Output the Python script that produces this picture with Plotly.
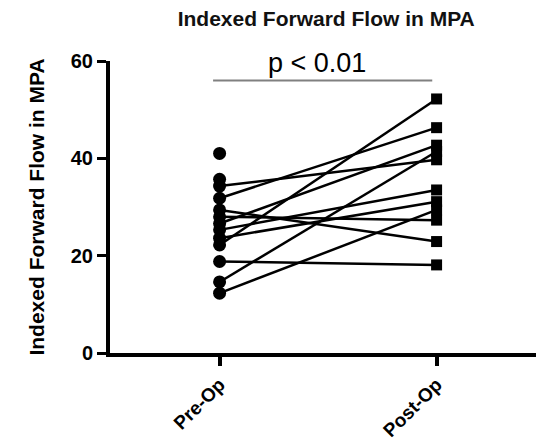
import plotly.graph_objects as go

categories = ["Pre-Op", "Post-Op"]
pre_values = [41.0, 35.7, 34.3, 31.8, 29.4, 28.0, 26.6, 25.3, 23.6, 22.2, 18.8, 14.6, 12.3]
post_values = [None, None, 39.7, 46.3, 22.9, 27.3, 42.7, 33.5, 31.1, 52.2, 18.1, 41.4, 29.4]
y_ticks = [0, 20, 40, 60]
title_text = "Indexed Forward Flow in MPA"
y_title = "Indexed Forward Flow in MPA"
p_text = "p < 0.01"
bracket_y = 56
bracket_x = [-0.03, 0.98]

FONT = "Liberation Sans, Arial, sans-serif"

fig = go.Figure()

lx, ly = [], []
for a, b in zip(pre_values, post_values):
    if a is None or b is None:
        continue
    lx += [0, 1, None]
    ly += [a, b, None]
fig.add_trace(go.Scatter(x=lx, y=ly, mode="lines", line=dict(color="black", width=2.5),
                         hoverinfo="skip", showlegend=False, cliponaxis=False))
fig.add_trace(go.Scatter(x=[0] * len(pre_values), y=pre_values, mode="markers",
                         marker=dict(symbol="circle", size=13, color="black"),
                         showlegend=False, cliponaxis=False))
pv = [v for v in post_values if v is not None]
fig.add_trace(go.Scatter(x=[1] * len(pv), y=pv, mode="markers",
                         marker=dict(symbol="square", size=11, color="black"),
                         showlegend=False, cliponaxis=False))

fig.add_shape(type="line", xref="x", yref="y", x0=bracket_x[0], x1=bracket_x[1],
              y0=bracket_y, y1=bracket_y, line=dict(color="#808080", width=2))
fig.add_annotation(x=0.45, y=bracket_y, xref="x", yref="y", text=p_text, showarrow=False,
                   yanchor="bottom", yshift=0, font=dict(family=FONT, size=27, color="black"))

fig.update_layout(
    width=544, height=443,
    margin=dict(l=102, r=8, t=53, b=98),
    paper_bgcolor="white", plot_bgcolor="white",
    title=dict(text="<b>" + title_text + "</b>", x=0.585, xanchor="center", y=0.975, yanchor="middle",
               font=dict(family=FONT, size=21, color="#111111")),
    font=dict(family=FONT, color="black"),
)
fig.update_xaxes(range=[-0.505, 1.495], showline=True, linecolor="black", linewidth=4,
                 ticks="outside", ticklen=9, tickwidth=4, tickcolor="black",
                 tickangle=-45, tickfont=dict(size=19, family=FONT),
                 showgrid=False, zeroline=False,
                 tickvals=[0, 1], ticktext=["<b>" + c + "</b>" for c in categories])
fig.update_yaxes(range=[0, 60], tickvals=y_ticks, ticktext=["<b>%d</b>" % t for t in y_ticks],
                 showline=True, linecolor="black", linewidth=4,
                 ticks="outside", ticklen=9, tickwidth=3, tickcolor="black",
                 tickfont=dict(size=20, family=FONT),
                 showgrid=False, zeroline=False,
                 title=dict(text="<b>" + y_title + "</b>", standoff=21,
                            font=dict(size=21, family=FONT)))

fig.write_html("out.html")
